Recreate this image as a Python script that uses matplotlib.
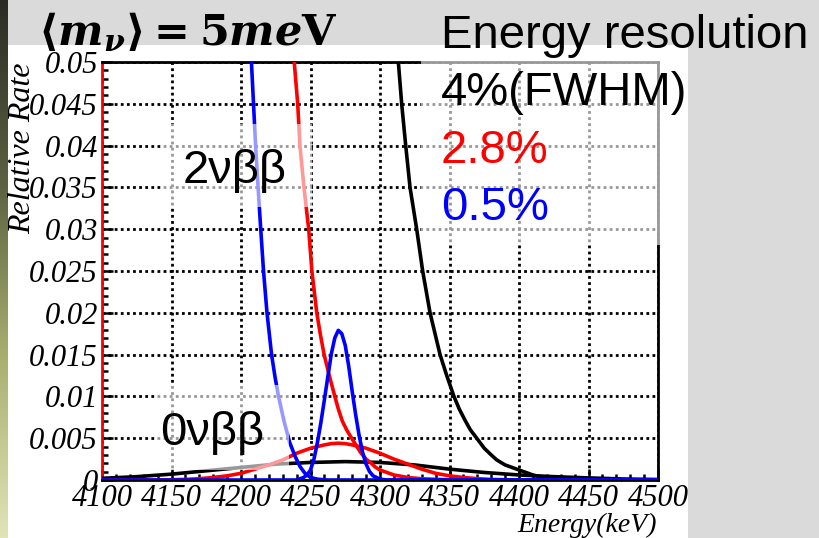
import numpy as np
import matplotlib
matplotlib.use("Agg")
import matplotlib.pyplot as plt
from matplotlib.patches import Rectangle
from matplotlib.ticker import MultipleLocator, FixedLocator
from matplotlib.colors import LinearSegmentedColormap

# ---------------- data ----------------
# 2vbb background spectra for three resolutions (keV, relative rate)
black2_x = [4306, 4313.2, 4315.6, 4318.5, 4321.6, 4326.4, 4330.7, 4336, 4343.2, 4348,
            4353.2, 4357, 4361, 4365, 4369.6, 4375, 4380, 4384, 4390, 4395, 4400,
            4405, 4410, 4415, 4422, 4430, 4445, 4500]
black2_y = [0.065, 0.05, 0.045, 0.04, 0.035, 0.03, 0.025, 0.02, 0.015, 0.0125,
            0.01, 0.0085, 0.0072, 0.006, 0.005, 0.0038, 0.003, 0.0024, 0.0018, 0.0015,
            0.0012, 0.0009, 0.0006, 0.0004, 0.0002, 0.0001, 0.0, 0.0]

red2_x = [4231, 4238.3, 4240.8, 4242.4, 4245.3, 4248.7, 4251, 4254.5, 4257, 4259.8,
          4263.5, 4267.5, 4270, 4273, 4276, 4279.6, 4283, 4286, 4290, 4293, 4297,
          4300, 4305, 4310, 4320, 4330, 4345, 4360, 4500]
red2_y = [0.065, 0.05, 0.045, 0.04, 0.035, 0.03, 0.025, 0.02, 0.0175, 0.015,
          0.0125, 0.01, 0.0085, 0.007, 0.006, 0.005, 0.0041, 0.0033, 0.0025, 0.0021,
          0.0015, 0.0012, 0.0009, 0.0006, 0.0003, 0.00015, 0.00005, 0.0, 0.0]

blue2_x = [4203, 4207.5, 4209, 4210.5, 4212.3, 4214.2, 4216.2, 4218.7, 4222, 4224.5,
           4227, 4229, 4231, 4235, 4239, 4242.5, 4246, 4250, 4255, 4262, 4500]
blue2_y = [0.065, 0.05, 0.045, 0.04, 0.035, 0.03, 0.025, 0.02, 0.015, 0.0123,
           0.01, 0.0085, 0.007, 0.0045, 0.0028, 0.0016, 0.0008, 0.0003, 0.0001, 0.0, 0.0]

# 0vbb signal peaks
black0_x = [4100, 4125, 4150, 4175, 4200, 4225, 4250, 4275, 4300, 4325, 4350, 4375,
            4400, 4425, 4450, 4475, 4500]
black0_y = [0.0002, 0.0004, 0.0007, 0.0011, 0.0015, 0.0019, 0.0021, 0.0022, 0.0021,
            0.0018, 0.0013, 0.0009, 0.0006, 0.0004, 0.00025, 0.00012, 0.00006]

red0_x = [4100, 4140, 4150, 4160, 4170, 4180, 4190, 4200, 4210, 4220, 4230, 4240, 4250,
          4260, 4265, 4270, 4275, 4280, 4290, 4300, 4310, 4320, 4330, 4340, 4350, 4360,
          4370, 4380, 4390, 4400, 4500]
red0_y = [0.0, 0.0, 0.00003, 0.00007, 0.00016, 0.0003, 0.0005, 0.0008, 0.0013, 0.0018,
          0.0024, 0.0032, 0.0038, 0.0042, 0.00435, 0.0044, 0.00435, 0.0042, 0.0038,
          0.0032, 0.0025, 0.0019, 0.0013, 0.0008, 0.0005, 0.0003, 0.00016, 0.00007,
          0.00003, 0.0, 0.0]

blue0_x = [4100, 4240, 4245, 4247.5, 4250, 4252.5, 4255, 4257.5, 4260, 4262.5, 4265,
           4267.5, 4270, 4272.5, 4275, 4277.5, 4280, 4282.5, 4285, 4287.5, 4290,
           4292.5, 4295, 4300, 4305, 4500]
blue0_y = [0.0, 0.0, 0.0003, 0.0006, 0.0012, 0.0025, 0.0045, 0.0069, 0.0096, 0.0124,
           0.0151, 0.0170, 0.0179, 0.0175, 0.0161, 0.0136, 0.0106, 0.0078, 0.0053,
           0.0033, 0.0019, 0.0010, 0.0005, 0.0001, 0.0, 0.0]

x_ticks = [4100, 4150, 4200, 4250, 4300, 4350, 4400, 4450, 4500]
x_tick_labels = ["4100", "4150", "4200", "4250", "4300", "4350", "4400", "4450", "4500"]
y_ticks = [0, 0.005, 0.01, 0.015, 0.02, 0.025, 0.03, 0.035, 0.04, 0.045, 0.05]
y_tick_labels = ["0", "0.005", "0.01", "0.015", "0.02", "0.025", "0.03", "0.035",
                 "0.04", "0.045", "0.05"]

# ---------------- figure ----------------
W, H = 819, 538
plt.rcParams['mathtext.fontset'] = 'custom'
plt.rcParams['mathtext.rm'] = 'DejaVu Serif:bold'
plt.rcParams['mathtext.it'] = 'DejaVu Serif:bold:italic'
plt.rcParams['mathtext.bf'] = 'DejaVu Serif:bold'

fig = plt.figure(figsize=(W / 100, H / 100), dpi=100)
fig.patch.set_facecolor('#dadada')


def fx(px):
    return px / W


def fy(py):
    return 1 - py / H


# white slide panel
fig.add_artist(Rectangle((fx(8), 0), fx(688) - fx(8), fy(45), transform=fig.transFigure,
                         facecolor='white', edgecolor='none', zorder=-5))
# left dark/greenish strip
strip = fig.add_axes([0, 0, fx(8), 1])
grad = np.linspace(0, 1, 256).reshape(-1, 1)
cm = LinearSegmentedColormap.from_list('s', ['#2a2c24', '#5a6040', '#a8b070', '#dfe5b8'])
strip.imshow(grad, aspect='auto', cmap=cm, origin='upper')
strip.set_axis_off()

ax = fig.add_axes([fx(102), fy(480), fx(658) - fx(102), fy(62) - fy(480)])
ax.set_xlim(4100, 4500)
ax.set_ylim(0, 0.05)

lw = 2.6
ax.plot(black0_x, black0_y, color='black', lw=lw, zorder=3, solid_joinstyle='round')
ax.plot(black2_x, black2_y, color='black', lw=lw, zorder=3, solid_joinstyle='round')
ax.plot(red0_x, red0_y, color='#ff0000', lw=lw, zorder=3.1, solid_joinstyle='round')
ax.plot(red2_x, red2_y, color='#ff0000', lw=lw, zorder=3.1, solid_joinstyle='round')
ax.plot(blue0_x, blue0_y, color='#0000ff', lw=lw, zorder=3.2, solid_joinstyle='round')
ax.plot(blue2_x, blue2_y, color='#0000ff', lw=lw, zorder=3.2, solid_joinstyle='round')

ax.grid(True, which='major', color='black', lw=2.0, linestyle=(0, (1, 1.2)))
ax.set_axisbelow(True)

ax.xaxis.set_major_locator(FixedLocator(x_ticks))
ax.set_xticklabels(x_tick_labels)
ax.xaxis.set_minor_locator(MultipleLocator(10))
ax.yaxis.set_major_locator(FixedLocator(y_ticks))
ax.set_yticklabels(y_tick_labels)
ax.yaxis.set_minor_locator(MultipleLocator(0.001))
ax.tick_params(which='both', direction='in', top=False, right=False, width=1.8,
               color='black')
ax.tick_params(which='major', length=8)
ax.tick_params(which='minor', length=4.5)
ax.tick_params(axis='x', pad=3)
ax.tick_params(axis='y', pad=3)
for lab in ax.get_xticklabels() + ax.get_yticklabels():
    lab.set_fontfamily('Liberation Serif')
    lab.set_fontstyle('italic')
    lab.set_fontsize(22)

for s in ax.spines.values():
    s.set_linewidth(2.0)
    s.set_color('black')
ax.spines['left'].set_color('#ff0000')

fig.text(fx(657), fy(532), 'Energy(keV)', ha='right', va='baseline',
         family='Liberation Serif', style='italic', fontsize=20)
fig.text(fx(23), fy(63), 'Relative Rate', ha='center', va='top', rotation=90,
         family='Liberation Serif', style='italic', fontsize=23)

# semi-transparent text boxes
for (x0, y0, x1, y1) in [(163, 124, 312, 207), (157, 385, 289, 470), (421, 45, 688, 245)]:
    fig.add_artist(Rectangle((fx(x0), fy(y1)), fx(x1) - fx(x0), fy(y0) - fy(y1),
                             transform=fig.transFigure, facecolor='white',
                             edgecolor='none', alpha=0.6, zorder=5))

sans = 'Liberation Sans'
fig.text(fx(183), fy(183), '2νββ', family=sans, fontsize=34, va='baseline', zorder=6)
fig.text(fx(160), fy(445), '0νββ', family=sans, fontsize=34, va='baseline', zorder=6)
fig.text(fx(441), fy(48), 'Energy resolution', family=sans, fontsize=34,
         va='baseline', zorder=6)
fig.text(fx(441), fy(105), '4%(FWHM)', family=sans, fontsize=34, va='baseline', zorder=6)
fig.text(fx(441), fy(163), '2.8%', family=sans, fontsize=34, va='baseline',
         color='#ff0000', zorder=6)
fig.text(fx(441), fy(220), '0.5%', family=sans, fontsize=34, va='baseline',
         color='#0000ff', zorder=6)

fig.text(fx(38), fy(45), r'$\langle m_{\nu} \rangle = 5me\mathrm{V}$', fontsize=31,
         va='baseline', zorder=6)

fig.savefig('out.png', dpi=100, facecolor=fig.get_facecolor())
